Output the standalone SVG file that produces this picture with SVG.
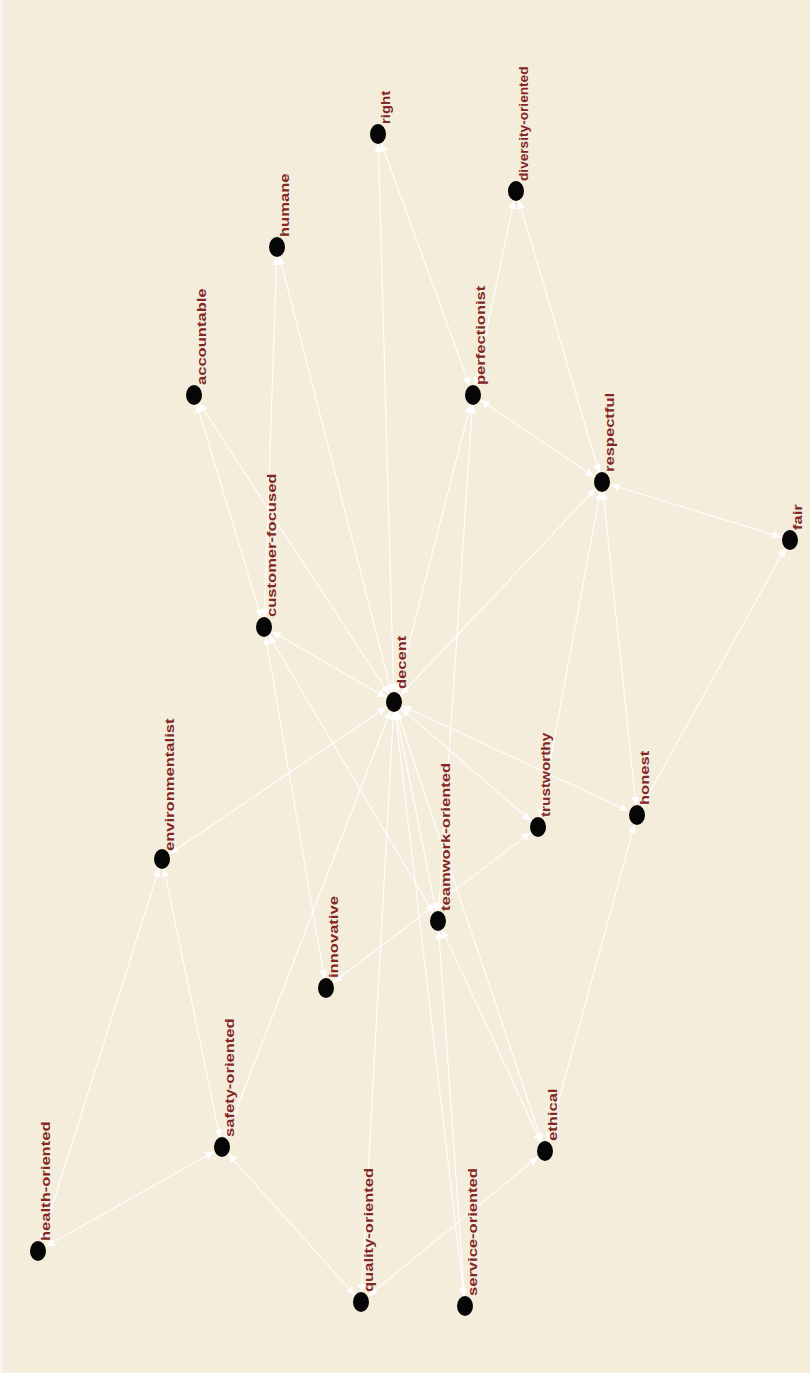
<svg xmlns="http://www.w3.org/2000/svg" width="810" height="1373" viewBox="0 0 810 1373">
<defs>
<style>
.bg{fill:#f4eddc}
.e line{stroke:#ffffff;stroke-width:1.2;stroke-opacity:0.9;marker-start:url(#ah);marker-end:url(#ah)}
.n ellipse{fill:#060606}
.n text{font-family:"Liberation Sans",Arial,sans-serif;font-weight:bold;font-size:12px;fill:#822626}
</style>
<marker id="ah" viewBox="0 0 8 8" refX="18" refY="4" markerWidth="8" markerHeight="8" markerUnits="userSpaceOnUse" orient="auto-start-reverse">
<path d="M0,0 L8,4 L0,8 Z" fill="#ffffff"/>
</marker>
</defs>
<rect class="bg" x="0" y="0" width="810" height="1373"/>
<rect x="0" y="0" width="3" height="1373" fill="#f8f6f1"/>
<g id="connectors" class="e">
<line x1="378" y1="134" x2="394" y2="702"/>
<line x1="378" y1="134" x2="473" y2="395"/>
<line x1="516" y1="191" x2="473" y2="395"/>
<line x1="516" y1="191" x2="602" y2="482"/>
<line x1="277" y1="247" x2="264" y2="627"/>
<line x1="277" y1="247" x2="394" y2="702"/>
<line x1="194" y1="395" x2="264" y2="627"/>
<line x1="194" y1="395" x2="394" y2="702"/>
<line x1="473" y1="395" x2="602" y2="482"/>
<line x1="473" y1="395" x2="394" y2="702"/>
<line x1="473" y1="395" x2="438" y2="921"/>
<line x1="602" y1="482" x2="790" y2="540"/>
<line x1="602" y1="482" x2="394" y2="702"/>
<line x1="602" y1="482" x2="538" y2="827"/>
<line x1="602" y1="482" x2="637" y2="815"/>
<line x1="790" y1="540" x2="637" y2="815"/>
<line x1="264" y1="627" x2="394" y2="702"/>
<line x1="264" y1="627" x2="326" y2="988"/>
<line x1="264" y1="627" x2="438" y2="921"/>
<line x1="394" y1="702" x2="162" y2="859"/>
<line x1="394" y1="702" x2="222" y2="1147"/>
<line x1="394" y1="702" x2="361" y2="1302"/>
<line x1="394" y1="702" x2="465" y2="1306"/>
<line x1="394" y1="702" x2="545" y2="1151"/>
<line x1="394" y1="702" x2="438" y2="921"/>
<line x1="394" y1="702" x2="538" y2="827"/>
<line x1="394" y1="702" x2="637" y2="815"/>
<line x1="162" y1="859" x2="222" y2="1147"/>
<line x1="162" y1="859" x2="38" y2="1251"/>
<line x1="38" y1="1251" x2="222" y2="1147"/>
<line x1="222" y1="1147" x2="361" y2="1302"/>
<line x1="361" y1="1302" x2="545" y2="1151"/>
<line x1="465" y1="1306" x2="438" y2="921"/>
<line x1="545" y1="1151" x2="438" y2="921"/>
<line x1="545" y1="1151" x2="637" y2="815"/>
<line x1="326" y1="988" x2="538" y2="827"/>
</g>
<g id="n-right" class="n"><ellipse cx="378" cy="134" rx="8" ry="10"/><text transform="translate(390,124) scale(1,1.38) rotate(-90)" textLength="24" lengthAdjust="spacingAndGlyphs">right</text></g>
<g id="n-diversity-oriented" class="n"><ellipse cx="516" cy="191" rx="8" ry="10"/><text transform="translate(528,181) scale(1,1.38) rotate(-90)" textLength="83" lengthAdjust="spacingAndGlyphs">diversity-oriented</text></g>
<g id="n-humane" class="n"><ellipse cx="277" cy="247" rx="8" ry="10"/><text transform="translate(289,237) scale(1,1.38) rotate(-90)">humane</text></g>
<g id="n-accountable" class="n"><ellipse cx="194" cy="395" rx="8" ry="10"/><text transform="translate(206,385) scale(1,1.38) rotate(-90)">accountable</text></g>
<g id="n-perfectionist" class="n"><ellipse cx="473" cy="395" rx="8" ry="10"/><text transform="translate(485,385) scale(1,1.38) rotate(-90)">perfectionist</text></g>
<g id="n-respectful" class="n"><ellipse cx="602" cy="482" rx="8" ry="10"/><text transform="translate(614,472) scale(1,1.38) rotate(-90)">respectful</text></g>
<g id="n-fair" class="n"><ellipse cx="790" cy="540" rx="8" ry="10"/><text transform="translate(802,530) scale(1,1.38) rotate(-90)">fair</text></g>
<g id="n-customer-focused" class="n"><ellipse cx="264" cy="627" rx="8" ry="10"/><text transform="translate(276,617) scale(1,1.38) rotate(-90)">customer-focused</text></g>
<g id="n-decent" class="n"><ellipse cx="394" cy="702" rx="8" ry="10"/><text transform="translate(406,689) scale(1,1.38) rotate(-90)">decent</text></g>
<g id="n-trustworthy" class="n"><ellipse cx="538" cy="827" rx="8" ry="10"/><text transform="translate(550,817) scale(1,1.38) rotate(-90)" textLength="61" lengthAdjust="spacingAndGlyphs">trustworthy</text></g>
<g id="n-honest" class="n"><ellipse cx="637" cy="815" rx="8" ry="10"/><text transform="translate(649,805) scale(1,1.38) rotate(-90)">honest</text></g>
<g id="n-environmentalist" class="n"><ellipse cx="162" cy="859" rx="8" ry="10"/><text transform="translate(174,851) scale(1,1.38) rotate(-90)">environmentalist</text></g>
<g id="n-teamwork-oriented" class="n"><ellipse cx="438" cy="921" rx="8" ry="10"/><text transform="translate(450,911) scale(1,1.38) rotate(-90)">teamwork-oriented</text></g>
<g id="n-innovative" class="n"><ellipse cx="326" cy="988" rx="8" ry="10"/><text transform="translate(338,978) scale(1,1.38) rotate(-90)">innovative</text></g>
<g id="n-safety-oriented" class="n"><ellipse cx="222" cy="1147" rx="8" ry="10"/><text transform="translate(234,1137) scale(1,1.38) rotate(-90)">safety-oriented</text></g>
<g id="n-ethical" class="n"><ellipse cx="545" cy="1151" rx="8" ry="10"/><text transform="translate(557,1141) scale(1,1.38) rotate(-90)">ethical</text></g>
<g id="n-health-oriented" class="n"><ellipse cx="38" cy="1251" rx="8" ry="10"/><text transform="translate(50,1241) scale(1,1.38) rotate(-90)">health-oriented</text></g>
<g id="n-quality-oriented" class="n"><ellipse cx="361" cy="1302" rx="8" ry="10"/><text transform="translate(373,1292) scale(1,1.38) rotate(-90)">quality-oriented</text></g>
<g id="n-service-oriented" class="n"><ellipse cx="465" cy="1306" rx="8" ry="10"/><text transform="translate(477,1296) scale(1,1.38) rotate(-90)">service-oriented</text></g>
</svg>
